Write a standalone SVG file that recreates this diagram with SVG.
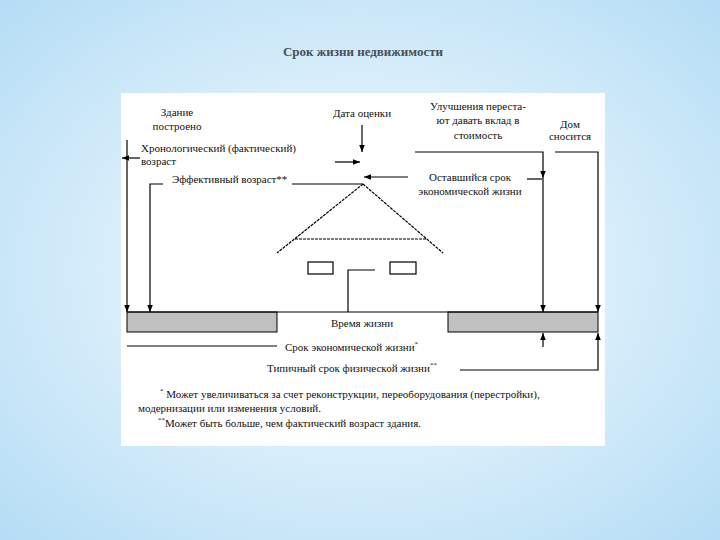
<svg xmlns="http://www.w3.org/2000/svg" width="720" height="540" viewBox="0 0 720 540" font-family="Liberation Serif, Times New Roman, serif">
<defs>
<radialGradient id="bg" cx="50%" cy="50%" r="70%">
<stop offset="0.3" stop-color="#e6f4fc"/><stop offset="1" stop-color="#b5ddf5"/>
</radialGradient>
<marker id="ar" viewBox="0 0 10 10" refX="10" refY="5" markerWidth="6" markerHeight="6" orient="auto-start-reverse"><path d="M0,1 L10,5 L0,9 z" fill="#000"/></marker>
<style>
text{font-family:'Liberation Serif','Times New Roman',serif;font-size:11px;fill:#111}
.c{text-anchor:middle}
.l{stroke:#000;stroke-width:1.2;fill:none}
.a{stroke:#000;stroke-width:1.2;fill:none;marker-end:url(#ar)}
.bar{fill:#c0c0c0;stroke:#000;stroke-width:1}
</style>
</defs>
<rect width="720" height="540" fill="url(#bg)"/>
<text x="363" y="56" class="c" style="font-size:13px;font-weight:bold;fill:#4a4f5a">Срок жизни недвижимости</text>
<rect x="121" y="93" width="484" height="353" fill="#fff"/>
<g id="labels">
<text x="177" y="116" class="c">Здание</text><text x="177" y="130" class="c">построено</text>
<text x="362" y="117" class="c">Дата оценки</text>
<text x="478" y="110" class="c">Улучшения переста-</text><text x="478" y="124" class="c">ют давать вклад в</text><text x="478" y="139" class="c">стоимость</text>
<text x="570" y="128" class="c">Дом</text><text x="570" y="140" class="c">сносится</text>
<text x="141" y="152">Хронологический (фактический)</text><text x="141" y="165">возраст</text>
<text x="172" y="183">Эффективный возраст**</text>
<text x="470" y="181" class="c">Оставшийся срок</text><text x="470" y="195" class="c">экономической жизни</text>
</g>
<g id="house">
<path class="l" d="M363,184 L277,253 M363,184 L443,253 M295,239 H427" stroke-dasharray="3,1"/>
<rect class="l" x="308" y="262" width="25" height="12"/>
<rect class="l" x="390" y="262" width="26" height="12"/>
<path class="l" d="M375,270 H348 V312"/>
</g>
<g id="bar">
<rect class="bar" x="127" y="312" width="150" height="20"/>
<rect class="bar" x="448" y="312" width="150" height="20"/>
<line class="l" x1="127" y1="312" x2="598" y2="312"/>
<text x="362" y="327" class="c">Время жизни</text>
</g>
<g id="connectors">
<line class="a" x1="127" y1="140" x2="127" y2="312"/>
<line class="a" x1="140" y1="158" x2="122" y2="158"/>
<line class="a" x1="362" y1="125" x2="362" y2="152"/>
<line class="a" x1="335" y1="162" x2="360" y2="162"/>
<path class="a" d="M163,184 H150 V312"/>
<line class="l" x1="292" y1="184" x2="363" y2="184"/>
<line class="a" x1="408" y1="177" x2="364" y2="177"/>
<line class="l" x1="527" y1="179" x2="542" y2="179"/>
<path class="a" d="M415,152 H543 V178"/>
<line class="a" x1="543" y1="178" x2="543" y2="312"/>
<path class="a" d="M555,152 H598 V312"/>
<line class="a" x1="543" y1="347" x2="543" y2="333"/>
<path class="a" d="M460,370 H598 V333"/>
<line class="l" x1="127" y1="346" x2="277" y2="346"/>
</g>
<g id="notes">
<text x="285" y="351">Срок экономической жизни<tspan dy="-5" font-size="7">*</tspan></text>
<text x="267" y="372">Типичный срок физической жизни<tspan dy="-5" font-size="7">**</tspan></text>
<text x="160" y="398"><tspan dy="-5" font-size="7">*</tspan><tspan dy="5"> Может увеличиваться за счет реконструкции, переоборудования (перестройки),</tspan></text>
<text x="138" y="412">модернизации или изменения условий.</text>
<text x="158" y="427"><tspan dy="-5" font-size="7">**</tspan><tspan dy="5">Может быть больше, чем фактический возраст здания.</tspan></text>
</g>
</svg>
